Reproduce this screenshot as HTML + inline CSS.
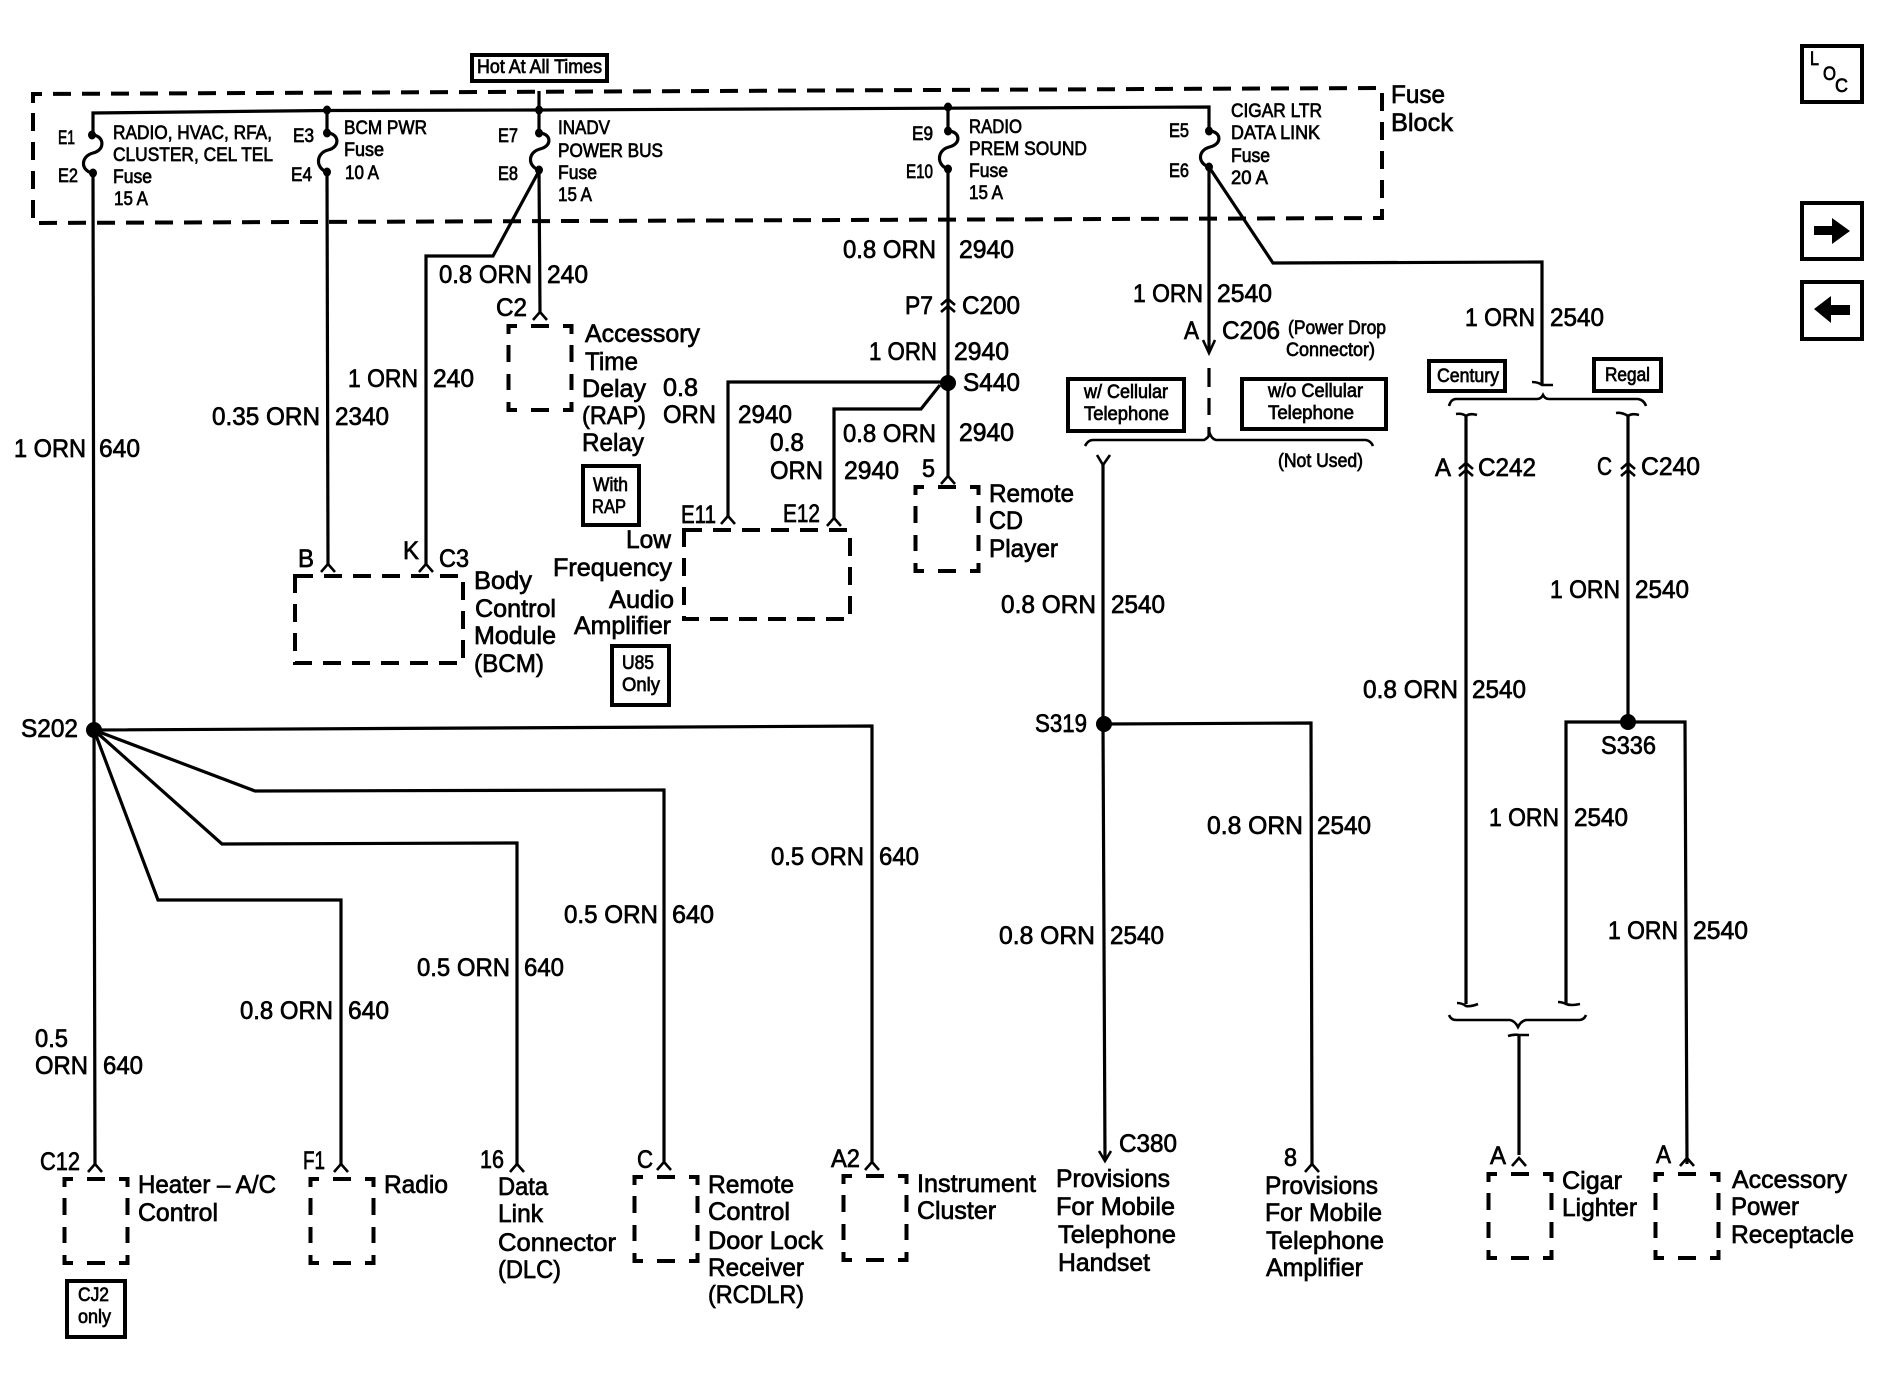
<!DOCTYPE html>
<html><head><meta charset="utf-8"><title>Wiring diagram</title>
<style>
html,body{margin:0;padding:0;background:#fff}
svg{display:block}
text{font-family:"Liberation Sans",Arial,sans-serif;fill:#000;stroke:#000;stroke-width:.7}
.b text{font-size:25px}
.s text{font-size:19px}
.w path,.w polyline{fill:none;stroke:#000;stroke-width:3.2}
.t path{fill:none;stroke:#000;stroke-width:2.6}
.d{fill:none;stroke:#000;stroke-width:4;stroke-dasharray:18 11}
.x{fill:none;stroke:#000;stroke-width:4}
</style></head><body>
<svg width="1882" height="1376" viewBox="0 0 1882 1376" xmlns="http://www.w3.org/2000/svg">
<rect width="1882" height="1376" fill="#fff"/>
<defs><path id="sb" d="M1.5 10V2H10M24 2H42M56 2H64.5V10M1.5 21V38M64.5 21V38M1.5 50V66M64.5 50V66M1.5 78V86H10M24 86H42M56 86H64.5V78" class="x"/></defs>

<!-- fuse block -->
<path class="d" d="M33 103V94L1382 88V218L33 223V100"/>

<!-- dashed component boxes -->
<use href="#sb" x="507" y="324"/>
<use href="#sb" x="914" y="485"/>
<use href="#sb" x="63" y="1177"/>
<use href="#sb" x="309" y="1177"/>
<use href="#sb" x="633" y="1175"/>
<use href="#sb" x="842" y="1174"/>
<use href="#sb" x="1487" y="1172"/>
<use href="#sb" x="1654" y="1172"/>
<rect class="d" x="295" y="576" width="168" height="87"/>
<rect class="d" x="684" y="530" width="166" height="89"/>

<!-- wires -->
<g class="w">
<path d="M93 136V113L327 110.5L539 110L1209 107V131"/>
<path d="M539 91V133M327 110V133M948 107V131"/>
<path d="M92 135C104 135 106 150 93 153C81 156 80 170 92 173"/>
<path d="M327 133C339 133 341 147 328 150C316 153 315 168 327 172"/>
<path d="M539 133C551 133 553 146 540 149C528 152 527 166 539 170"/>
<path d="M948 131C960 131 962 144 949 147C937 150 936 165 948 169"/>
<path d="M1209 131C1221 131 1223 144 1210 147C1198 150 1197 163 1209 167"/>
<path d="M93 173L94 730L95 1164"/>
<path d="M327 172L328 564"/>
<path d="M539 170L540 312"/>
<path d="M539 171L493 256H426V564"/>
<path d="M948 169V476"/>
<path d="M948 382H728V516"/>
<path d="M940 385L921 409H834V518"/>
<path d="M1209 167V351"/>
<path d="M1209 167L1273 263L1542 262V384"/>
<path d="M1209 368V387M1209 398V415M1209 427V436"/>
<path d="M94 730L872 726V1162"/>
<path d="M94 730L255 791L664 790V1162"/>
<path d="M94 730L222 844L517 843V1164"/>
<path d="M94 730L158 900H341V1164"/>
<path d="M1103 463V724L1105 1160"/>
<path d="M1104 724L1311 723L1312 1164"/>
<path d="M1466 415V1004"/>
<path d="M1628 415V722"/>
<path d="M1566 1003V722H1685L1687 1164"/>
<path d="M1519 1035V1155"/>
</g>

<g class="t">
<!-- connector chevrons -->
<path d="M88 1172L95 1164L102 1172M334 1172L341 1164L348 1172M510 1172L517 1164L524 1172M657 1170L664 1162L671 1170M865 1170L872 1162L879 1170"/>
<path d="M321 572L328 564L335 572M419 572L426 564L433 572M533 320L540 312L547 320M721 524L728 516L735 524M827 526L834 518L841 526M941 484L948 476L955 484"/>
<path d="M1305 1172L1312 1164L1319 1172M1512 1166L1519 1158L1526 1166M1680 1166L1687 1158L1694 1166"/>
<path d="M941 305L948 299L955 305M941 312L948 306L955 312"/>
<path d="M1459 469L1466 463L1473 469M1459 476L1466 470L1473 476M1621 469L1628 463L1635 469M1621 476L1628 470L1635 476"/>
<path d="M1203 340L1209 353L1215 340M1097 455L1103 465L1110 455M1099 1151L1105 1161L1111 1151"/>
<!-- plug marks -->
<path d="M1532 382Q1538 382 1542 385L1553 385"/>
<path d="M1456 414Q1462 413 1466 416Q1470 413 1477 415"/>
<path d="M1616 413Q1622 412 1628 416Q1632 413 1639 415"/>
<path d="M1457 1003Q1462 1003 1466 1006Q1470 1007 1478 1004"/>
<path d="M1558 1002Q1562 1002 1566 1004Q1571 1006 1580 1004"/>
<path d="M1508 1036Q1514 1034 1519 1035L1529 1035"/>
<!-- braces -->
<path d="M1085 446Q1088 440 1093 440L1204 440Q1208 438 1210 434Q1212 439 1216 440L1366 440Q1371 441 1373 446"/>
<path d="M1449 406Q1451 399 1456 399H1537Q1541 399 1543 395Q1545 399 1549 399H1638Q1644 400 1646 406"/>
<path d="M1449 1015Q1451 1020 1456 1020H1510Q1515 1021 1518 1027Q1521 1021 1526 1020H1579Q1584 1020 1586 1015"/>
</g>

<!-- splice dots and fuse terminals -->
<circle cx="94" cy="730" r="8"/><circle cx="948" cy="383" r="8"/><circle cx="1104" cy="724" r="8"/><circle cx="1628" cy="722" r="8"/>
<g>
<ellipse cx="92" cy="135" rx="4" ry="4.5"/><ellipse cx="93" cy="173" rx="4" ry="4.5"/>
<ellipse cx="327" cy="133" rx="4" ry="4.5"/><ellipse cx="327" cy="172" rx="4" ry="4.5"/>
<ellipse cx="539" cy="133" rx="4" ry="4.5"/><ellipse cx="539" cy="170" rx="4" ry="4.5"/>
<ellipse cx="948" cy="131" rx="4" ry="4.5"/><ellipse cx="948" cy="169" rx="4" ry="4.5"/>
<ellipse cx="1209" cy="131" rx="4" ry="4.5"/><ellipse cx="1209" cy="167" rx="4" ry="4.5"/>
<ellipse cx="327" cy="110" rx="4" ry="4.5"/><ellipse cx="539" cy="110" rx="4" ry="4.5"/><ellipse cx="948" cy="107" rx="4" ry="4.5"/>
</g>

<!-- solid note boxes -->
<g fill="none" stroke="#000" stroke-width="4">
<rect x="472" y="55" width="135" height="26"/>
<rect x="583" y="466" width="56" height="59"/>
<rect x="612" y="646" width="57" height="59"/>
<rect x="67" y="1281" width="58" height="56"/>
<rect x="1068" y="379" width="116" height="52"/>
<rect x="1242" y="379" width="144" height="50"/>
<rect x="1429" y="361" width="76" height="30"/>
<rect x="1594" y="359" width="67" height="32"/>
<rect x="1802" y="46" width="60" height="56"/>
<rect x="1802" y="203" width="60" height="56"/>
<rect x="1802" y="282" width="60" height="57"/>
</g>
<path d="M1814 226H1832V218L1850 231L1832 244V235H1814Z"/>
<path d="M1850 305H1831V296L1814 309L1831 323V315H1850Z"/>

<!-- small labels -->
<g class="s" transform="translate(0,-1)">
<text x="477" y="74" textLength="125" lengthAdjust="spacingAndGlyphs">Hot At All Times</text>
<text x="58" y="145" textLength="17" lengthAdjust="spacingAndGlyphs">E1</text>
<text x="58" y="183" textLength="20" lengthAdjust="spacingAndGlyphs">E2</text>
<text x="113" y="140" textLength="159" lengthAdjust="spacingAndGlyphs">RADIO, HVAC, RFA,</text>
<text x="113" y="162" textLength="160" lengthAdjust="spacingAndGlyphs">CLUSTER, CEL TEL</text>
<text x="113" y="184" textLength="39" lengthAdjust="spacingAndGlyphs">Fuse</text>
<text x="114" y="206" textLength="34" lengthAdjust="spacingAndGlyphs">15 A</text>
<text x="293" y="143" textLength="21" lengthAdjust="spacingAndGlyphs">E3</text>
<text x="291" y="182" textLength="21" lengthAdjust="spacingAndGlyphs">E4</text>
<text x="344" y="135" textLength="83" lengthAdjust="spacingAndGlyphs">BCM PWR</text>
<text x="344" y="157" textLength="40" lengthAdjust="spacingAndGlyphs">Fuse</text>
<text x="345" y="180" textLength="34" lengthAdjust="spacingAndGlyphs">10 A</text>
<text x="498" y="143" textLength="20" lengthAdjust="spacingAndGlyphs">E7</text>
<text x="498" y="181" textLength="20" lengthAdjust="spacingAndGlyphs">E8</text>
<text x="558" y="135" textLength="52" lengthAdjust="spacingAndGlyphs">INADV</text>
<text x="558" y="158" textLength="105" lengthAdjust="spacingAndGlyphs">POWER BUS</text>
<text x="558" y="180" textLength="39" lengthAdjust="spacingAndGlyphs">Fuse</text>
<text x="558" y="202" textLength="34" lengthAdjust="spacingAndGlyphs">15 A</text>
<text x="912" y="141" textLength="21" lengthAdjust="spacingAndGlyphs">E9</text>
<text x="906" y="179" textLength="27" lengthAdjust="spacingAndGlyphs">E10</text>
<text x="969" y="134" textLength="53" lengthAdjust="spacingAndGlyphs">RADIO</text>
<text x="969" y="156" textLength="118" lengthAdjust="spacingAndGlyphs">PREM SOUND</text>
<text x="969" y="178" textLength="39" lengthAdjust="spacingAndGlyphs">Fuse</text>
<text x="969" y="200" textLength="34" lengthAdjust="spacingAndGlyphs">15 A</text>
<text x="1169" y="138" textLength="20" lengthAdjust="spacingAndGlyphs">E5</text>
<text x="1169" y="178" textLength="20" lengthAdjust="spacingAndGlyphs">E6</text>
<text x="1231" y="118" textLength="91" lengthAdjust="spacingAndGlyphs">CIGAR LTR</text>
<text x="1231" y="140" textLength="89" lengthAdjust="spacingAndGlyphs">DATA LINK</text>
<text x="1231" y="163" textLength="39" lengthAdjust="spacingAndGlyphs">Fuse</text>
<text x="1231" y="185" textLength="37" lengthAdjust="spacingAndGlyphs">20 A</text>
<text x="593" y="492" textLength="35" lengthAdjust="spacingAndGlyphs">With</text>
<text x="592" y="514" textLength="34" lengthAdjust="spacingAndGlyphs">RAP</text>
<text x="622" y="670" textLength="32" lengthAdjust="spacingAndGlyphs">U85</text>
<text x="622" y="692" textLength="38" lengthAdjust="spacingAndGlyphs">Only</text>
<text x="78" y="1302" textLength="31" lengthAdjust="spacingAndGlyphs">CJ2</text>
<text x="78" y="1324" textLength="33" lengthAdjust="spacingAndGlyphs">only</text>
<text x="1084" y="399" textLength="84" lengthAdjust="spacingAndGlyphs">w/ Cellular</text>
<text x="1084" y="421" textLength="85" lengthAdjust="spacingAndGlyphs">Telephone</text>
<text x="1268" y="398" textLength="95" lengthAdjust="spacingAndGlyphs">w/o Cellular</text>
<text x="1268" y="420" textLength="86" lengthAdjust="spacingAndGlyphs">Telephone</text>
<text x="1278" y="468" textLength="85" lengthAdjust="spacingAndGlyphs">(Not Used)</text>
<text x="1288" y="335" textLength="98" lengthAdjust="spacingAndGlyphs">(Power Drop</text>
<text x="1286" y="357" textLength="89" lengthAdjust="spacingAndGlyphs">Connector)</text>
<text x="1437" y="383" textLength="62" lengthAdjust="spacingAndGlyphs">Century</text>
<text x="1605" y="382" textLength="45" lengthAdjust="spacingAndGlyphs">Regal</text>
<text x="1810" y="66" textLength="9" lengthAdjust="spacingAndGlyphs">L</text>
<text x="1823" y="81" textLength="13" lengthAdjust="spacingAndGlyphs">O</text>
<text x="1835" y="93" textLength="13" lengthAdjust="spacingAndGlyphs">C</text>
</g>

<!-- large labels -->
<g class="b" transform="translate(0,-1)">
<text x="1391" y="104" textLength="54" lengthAdjust="spacingAndGlyphs">Fuse</text>
<text x="1391" y="132" textLength="62" lengthAdjust="spacingAndGlyphs">Block</text>
<text x="14" y="458" textLength="72" lengthAdjust="spacingAndGlyphs">1 ORN</text>
<text x="99" y="458" textLength="41" lengthAdjust="spacingAndGlyphs">640</text>
<text x="212" y="426" textLength="108" lengthAdjust="spacingAndGlyphs">0.35 ORN</text>
<text x="335" y="426" textLength="54" lengthAdjust="spacingAndGlyphs">2340</text>
<text x="348" y="388" textLength="70" lengthAdjust="spacingAndGlyphs">1 ORN</text>
<text x="433" y="388" textLength="41" lengthAdjust="spacingAndGlyphs">240</text>
<text x="439" y="284" textLength="93" lengthAdjust="spacingAndGlyphs">0.8 ORN</text>
<text x="547" y="284" textLength="41" lengthAdjust="spacingAndGlyphs">240</text>
<text x="496" y="317" textLength="31" lengthAdjust="spacingAndGlyphs">C2</text>
<text x="585" y="343" textLength="115" lengthAdjust="spacingAndGlyphs">Accessory</text>
<text x="585" y="371" textLength="53" lengthAdjust="spacingAndGlyphs">Time</text>
<text x="582" y="398" textLength="64" lengthAdjust="spacingAndGlyphs">Delay</text>
<text x="663" y="397" textLength="35" lengthAdjust="spacingAndGlyphs">0.8</text>
<text x="582" y="425" textLength="64" lengthAdjust="spacingAndGlyphs">(RAP)</text>
<text x="663" y="424" textLength="53" lengthAdjust="spacingAndGlyphs">ORN</text>
<text x="738" y="424" textLength="54" lengthAdjust="spacingAndGlyphs">2940</text>
<text x="582" y="452" textLength="62" lengthAdjust="spacingAndGlyphs">Relay</text>
<text x="770" y="452" textLength="34" lengthAdjust="spacingAndGlyphs">0.8</text>
<text x="770" y="480" textLength="53" lengthAdjust="spacingAndGlyphs">ORN</text>
<text x="844" y="480" textLength="55" lengthAdjust="spacingAndGlyphs">2940</text>
<text x="843" y="443" textLength="93" lengthAdjust="spacingAndGlyphs">0.8 ORN</text>
<text x="959" y="442" textLength="55" lengthAdjust="spacingAndGlyphs">2940</text>
<text x="922" y="478" textLength="13" lengthAdjust="spacingAndGlyphs">5</text>
<text x="843" y="259" textLength="93" lengthAdjust="spacingAndGlyphs">0.8 ORN</text>
<text x="959" y="259" textLength="55" lengthAdjust="spacingAndGlyphs">2940</text>
<text x="905" y="315" textLength="28" lengthAdjust="spacingAndGlyphs">P7</text>
<text x="962" y="315" textLength="58" lengthAdjust="spacingAndGlyphs">C200</text>
<text x="869" y="361" textLength="68" lengthAdjust="spacingAndGlyphs">1 ORN</text>
<text x="954" y="361" textLength="55" lengthAdjust="spacingAndGlyphs">2940</text>
<text x="963" y="392" textLength="57" lengthAdjust="spacingAndGlyphs">S440</text>
<text x="681" y="524" textLength="35" lengthAdjust="spacingAndGlyphs">E11</text>
<text x="783" y="523" textLength="37" lengthAdjust="spacingAndGlyphs">E12</text>
<text x="298" y="568" textLength="16" lengthAdjust="spacingAndGlyphs">B</text>
<text x="403" y="560" textLength="16" lengthAdjust="spacingAndGlyphs">K</text>
<text x="439" y="568" textLength="30" lengthAdjust="spacingAndGlyphs">C3</text>
<text x="474" y="590" textLength="58" lengthAdjust="spacingAndGlyphs">Body</text>
<text x="475" y="618" textLength="81" lengthAdjust="spacingAndGlyphs">Control</text>
<text x="474" y="645" textLength="82" lengthAdjust="spacingAndGlyphs">Module</text>
<text x="474" y="673" textLength="70" lengthAdjust="spacingAndGlyphs">(BCM)</text>
<text x="626" y="549" textLength="45" lengthAdjust="spacingAndGlyphs">Low</text>
<text x="553" y="577" textLength="119" lengthAdjust="spacingAndGlyphs">Frequency</text>
<text x="609" y="609" textLength="65" lengthAdjust="spacingAndGlyphs">Audio</text>
<text x="574" y="635" textLength="97" lengthAdjust="spacingAndGlyphs">Amplifier</text>
<text x="1184" y="340" textLength="15" lengthAdjust="spacingAndGlyphs">A</text>
<text x="1222" y="340" textLength="58" lengthAdjust="spacingAndGlyphs">C206</text>
<text x="1133" y="303" textLength="70" lengthAdjust="spacingAndGlyphs">1 ORN</text>
<text x="1217" y="303" textLength="55" lengthAdjust="spacingAndGlyphs">2540</text>
<text x="1465" y="327" textLength="70" lengthAdjust="spacingAndGlyphs">1 ORN</text>
<text x="1550" y="327" textLength="54" lengthAdjust="spacingAndGlyphs">2540</text>
<text x="989" y="503" textLength="85" lengthAdjust="spacingAndGlyphs">Remote</text>
<text x="989" y="530" textLength="34" lengthAdjust="spacingAndGlyphs">CD</text>
<text x="989" y="558" textLength="69" lengthAdjust="spacingAndGlyphs">Player</text>
<text x="1001" y="614" textLength="95" lengthAdjust="spacingAndGlyphs">0.8 ORN</text>
<text x="1111" y="614" textLength="54" lengthAdjust="spacingAndGlyphs">2540</text>
<text x="1435" y="477" textLength="16" lengthAdjust="spacingAndGlyphs">A</text>
<text x="1478" y="477" textLength="58" lengthAdjust="spacingAndGlyphs">C242</text>
<text x="1597" y="476" textLength="15" lengthAdjust="spacingAndGlyphs">C</text>
<text x="1641" y="476" textLength="59" lengthAdjust="spacingAndGlyphs">C240</text>
<text x="1550" y="599" textLength="70" lengthAdjust="spacingAndGlyphs">1 ORN</text>
<text x="1635" y="599" textLength="54" lengthAdjust="spacingAndGlyphs">2540</text>
<text x="1363" y="699" textLength="95" lengthAdjust="spacingAndGlyphs">0.8 ORN</text>
<text x="1472" y="699" textLength="54" lengthAdjust="spacingAndGlyphs">2540</text>
<text x="1035" y="733" textLength="52" lengthAdjust="spacingAndGlyphs">S319</text>
<text x="1601" y="755" textLength="55" lengthAdjust="spacingAndGlyphs">S336</text>
<text x="21" y="738" textLength="57" lengthAdjust="spacingAndGlyphs">S202</text>
<text x="1207" y="835" textLength="96" lengthAdjust="spacingAndGlyphs">0.8 ORN</text>
<text x="1317" y="835" textLength="54" lengthAdjust="spacingAndGlyphs">2540</text>
<text x="1489" y="827" textLength="70" lengthAdjust="spacingAndGlyphs">1 ORN</text>
<text x="1574" y="827" textLength="54" lengthAdjust="spacingAndGlyphs">2540</text>
<text x="1608" y="940" textLength="70" lengthAdjust="spacingAndGlyphs">1 ORN</text>
<text x="1693" y="940" textLength="55" lengthAdjust="spacingAndGlyphs">2540</text>
<text x="999" y="945" textLength="96" lengthAdjust="spacingAndGlyphs">0.8 ORN</text>
<text x="1110" y="945" textLength="54" lengthAdjust="spacingAndGlyphs">2540</text>
<text x="771" y="866" textLength="93" lengthAdjust="spacingAndGlyphs">0.5 ORN</text>
<text x="879" y="866" textLength="40" lengthAdjust="spacingAndGlyphs">640</text>
<text x="564" y="924" textLength="94" lengthAdjust="spacingAndGlyphs">0.5 ORN</text>
<text x="672" y="924" textLength="42" lengthAdjust="spacingAndGlyphs">640</text>
<text x="417" y="977" textLength="93" lengthAdjust="spacingAndGlyphs">0.5 ORN</text>
<text x="524" y="977" textLength="40" lengthAdjust="spacingAndGlyphs">640</text>
<text x="240" y="1020" textLength="93" lengthAdjust="spacingAndGlyphs">0.8 ORN</text>
<text x="348" y="1020" textLength="41" lengthAdjust="spacingAndGlyphs">640</text>
<text x="35" y="1048" textLength="33" lengthAdjust="spacingAndGlyphs">0.5</text>
<text x="35" y="1075" textLength="53" lengthAdjust="spacingAndGlyphs">ORN</text>
<text x="103" y="1075" textLength="40" lengthAdjust="spacingAndGlyphs">640</text>
<text x="40" y="1171" textLength="40" lengthAdjust="spacingAndGlyphs">C12</text>
<text x="303" y="1170" textLength="22" lengthAdjust="spacingAndGlyphs">F1</text>
<text x="480" y="1169" textLength="24" lengthAdjust="spacingAndGlyphs">16</text>
<text x="637" y="1169" textLength="16" lengthAdjust="spacingAndGlyphs">C</text>
<text x="831" y="1168" textLength="29" lengthAdjust="spacingAndGlyphs">A2</text>
<text x="138" y="1194" textLength="138" lengthAdjust="spacingAndGlyphs">Heater – A/C</text>
<text x="138" y="1222" textLength="80" lengthAdjust="spacingAndGlyphs">Control</text>
<text x="384" y="1194" textLength="64" lengthAdjust="spacingAndGlyphs">Radio</text>
<text x="498" y="1196" textLength="50" lengthAdjust="spacingAndGlyphs">Data</text>
<text x="498" y="1223" textLength="45" lengthAdjust="spacingAndGlyphs">Link</text>
<text x="498" y="1252" textLength="118" lengthAdjust="spacingAndGlyphs">Connector</text>
<text x="498" y="1279" textLength="63" lengthAdjust="spacingAndGlyphs">(DLC)</text>
<text x="708" y="1194" textLength="86" lengthAdjust="spacingAndGlyphs">Remote</text>
<text x="708" y="1221" textLength="82" lengthAdjust="spacingAndGlyphs">Control</text>
<text x="708" y="1250" textLength="115" lengthAdjust="spacingAndGlyphs">Door Lock</text>
<text x="708" y="1277" textLength="96" lengthAdjust="spacingAndGlyphs">Receiver</text>
<text x="708" y="1304" textLength="96" lengthAdjust="spacingAndGlyphs">(RCDLR)</text>
<text x="917" y="1193" textLength="119" lengthAdjust="spacingAndGlyphs">Instrument</text>
<text x="917" y="1220" textLength="79" lengthAdjust="spacingAndGlyphs">Cluster</text>
<text x="1119" y="1153" textLength="58" lengthAdjust="spacingAndGlyphs">C380</text>
<text x="1056" y="1188" textLength="114" lengthAdjust="spacingAndGlyphs">Provisions</text>
<text x="1056" y="1216" textLength="119" lengthAdjust="spacingAndGlyphs">For Mobile</text>
<text x="1058" y="1244" textLength="118" lengthAdjust="spacingAndGlyphs">Telephone</text>
<text x="1058" y="1272" textLength="92" lengthAdjust="spacingAndGlyphs">Handset</text>
<text x="1284" y="1167" textLength="13" lengthAdjust="spacingAndGlyphs">8</text>
<text x="1265" y="1195" textLength="113" lengthAdjust="spacingAndGlyphs">Provisions</text>
<text x="1265" y="1222" textLength="117" lengthAdjust="spacingAndGlyphs">For Mobile</text>
<text x="1266" y="1250" textLength="118" lengthAdjust="spacingAndGlyphs">Telephone</text>
<text x="1266" y="1277" textLength="97" lengthAdjust="spacingAndGlyphs">Amplifier</text>
<text x="1490" y="1165" textLength="16" lengthAdjust="spacingAndGlyphs">A</text>
<text x="1656" y="1164" textLength="15" lengthAdjust="spacingAndGlyphs">A</text>
<text x="1562" y="1190" textLength="60" lengthAdjust="spacingAndGlyphs">Cigar</text>
<text x="1562" y="1217" textLength="75" lengthAdjust="spacingAndGlyphs">Lighter</text>
<text x="1732" y="1189" textLength="115" lengthAdjust="spacingAndGlyphs">Accessory</text>
<text x="1731" y="1216" textLength="68" lengthAdjust="spacingAndGlyphs">Power</text>
<text x="1731" y="1244" textLength="123" lengthAdjust="spacingAndGlyphs">Receptacle</text>
</g>
</svg>
</body></html>
